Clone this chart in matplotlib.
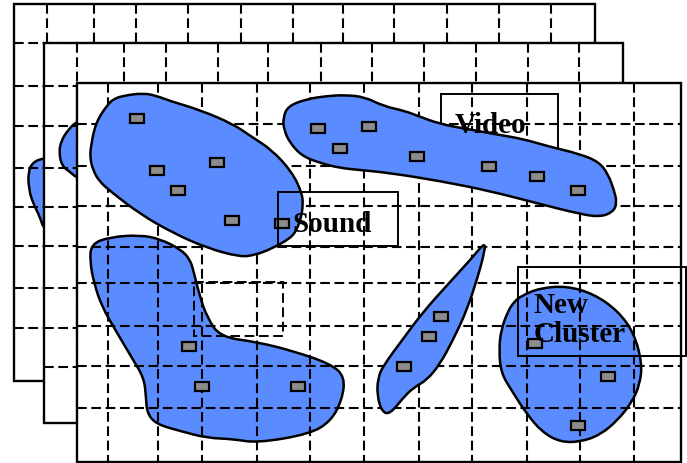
import matplotlib
matplotlib.use('Agg')
import matplotlib.pyplot as plt
from matplotlib.patches import Rectangle, PathPatch
from matplotlib.path import Path

plt.rcParams['lines.scale_dashes'] = False

BLUE = '#5b8cff'
GREY = '#8c8c8c'

# stacked panels (left, top, right, bottom) in pixels, back to front
panels = [(14, 4, 595, 381), (44, 43, 623, 423), (77, 83, 681, 462)]
grid_x = [
    [47, 94, 136, 188, 241, 293, 343, 394, 447, 499, 551],
    [77, 124, 166, 218, 268, 321, 372, 424, 476, 528, 579],
    [108, 158, 202, 257, 310, 364, 419, 472, 527, 580, 634],
]
grid_y = [
    [43, 86, 126, 168, 207, 246, 288, 328],
    [86, 126, 168, 207, 246, 288, 328, 367],
    [124, 166, 206, 247, 283, 326, 366, 408],
]

# cluster outlines
back_blob = [(44, 158), (33, 162), (28, 172), (29, 190), (33, 203), (40, 217), (44, 230), (60, 230), (60, 158)]
mid_blob = [(77, 121), (68, 130), (61, 141), (59, 153), (62, 166), (70, 172), (77, 178), (90, 178), (90, 121)]
blob_sound = [(143, 93), (157, 96), (170, 101), (200, 110), (233, 124), (252, 137), (272, 150), (292, 172),
              (302, 193), (303, 205), (301, 218), (297, 229), (291, 238), (271, 249), (255, 255), (240, 257),
              (207, 248), (173, 233), (140, 214), (110, 191), (99, 181), (93, 170), (90, 158), (91, 145),
              (96, 122), (108, 104), (114, 99), (122, 96)]
blob_video = [(288, 106), (307, 99), (327, 96), (345, 95), (365, 97), (383, 106), (405, 111), (418, 116),
              (440, 124), (467, 129), (500, 135), (523, 139), (547, 146), (580, 154), (599, 162), (608, 174),
              (614, 190), (617, 203), (613, 212), (600, 217), (580, 214), (540, 204), (490, 191), (440, 181),
              (390, 173), (360, 170), (340, 168), (320, 163), (302, 156), (290, 143), (284, 130), (283, 118)]
blob_low = [(91, 244), (110, 237), (140, 235), (160, 239), (180, 249), (190, 259), (194, 273), (200, 297),
            (207, 317), (220, 337), (257, 342), (293, 351), (331, 364), (345, 377), (342, 400), (331, 421),
            (310, 434), (257, 443), (233, 439), (207, 438), (180, 431), (156, 424), (147, 413), (146, 397),
            (144, 378), (132, 358), (116, 331), (102, 307), (94, 283), (90, 262)]
blob_thin = [(486, 241), (483, 258), (478, 276), (467, 310), (453, 340), (440, 364), (427, 380), (413, 388),
             (403, 398), (390, 414), (382, 412), (377, 395), (378, 378), (383, 366), (403, 339), (423, 312),
             (450, 282), (472, 258)]
blob_new = [(521, 296), (540, 288), (567, 286), (594, 294), (618, 311), (634, 333), (642, 363), (640, 384),
            (632, 402), (618, 420), (600, 435), (580, 442), (560, 442), (542, 432), (526, 413), (512, 391),
            (501, 373), (499, 350), (501, 330), (508, 311), (514, 302)]

# data points (grey markers)
pts_x = [137, 157, 178, 217, 232, 282,
         318, 340, 369, 417, 489, 537, 578,
         189, 202, 298,
         441, 429, 404,
         535, 608, 578]
pts_y = [118, 170, 190, 162, 220, 223,
         128, 148, 126, 156, 166, 176, 190,
         346, 386, 386,
         316, 336, 366,
         343, 376, 425]

labels = ['Video', 'Sound', 'New\nCluster']
label_xy = [(455, 133), (293, 232), (534, 342)]
boxes = [(441, 94, 558, 148), (278, 192, 398, 246), (518, 267, 686, 356)]
dash_box = (194, 282, 283, 336)

fig = plt.figure(figsize=(6.87, 4.63), dpi=100)
ax = fig.add_axes([0, 0, 1, 1])
ax.set_xlim(0, 687)
ax.set_ylim(463, 0)
ax.axis('off')

dash = (0, (7, 3.3))


def draw_panel(i, z):
    x0, y0, x1, y1 = panels[i]
    ax.add_patch(Rectangle((x0, y0), x1 - x0, y1 - y0, facecolor='white',
                           edgecolor='black', lw=1.7, zorder=z))
    for gx in grid_x[i]:
        ax.plot([gx, gx], [y0, y1], color='black', lw=1.5, ls=dash, zorder=z + 2)
    for gy in grid_y[i]:
        ax.plot([x0, x1], [gy, gy], color='black', lw=1.5, ls=dash, zorder=z + 2)


def blob(pts, z):
    # closed quadratic spline using the outline points as control points
    n = len(pts)
    mids = [((pts[k][0] + pts[(k + 1) % n][0]) / 2, (pts[k][1] + pts[(k + 1) % n][1]) / 2)
            for k in range(n)]
    verts = [mids[-1]]
    codes = [Path.MOVETO]
    for k in range(n):
        verts += [pts[k], mids[k]]
        codes += [Path.CURVE3, Path.CURVE3]
    verts.append(mids[-1])
    codes.append(Path.CLOSEPOLY)
    ax.add_patch(PathPatch(Path(verts, codes), facecolor=BLUE, edgecolor='black',
                           lw=1.8, joinstyle='round', zorder=z))


draw_panel(0, 1)
blob(back_blob, 2)
draw_panel(1, 5)
blob(mid_blob, 6)
draw_panel(2, 10)

# blobs that sit under the grid
blob(blob_low, 11)
blob(blob_new, 11)

# video box lies under its cluster
bx0, by0, bx1, by1 = boxes[0]
ax.add_patch(Rectangle((bx0, by0), bx1 - bx0, by1 - by0, fill=False,
                       edgecolor='black', lw=1.4, zorder=12.5))

blob(blob_sound, 13)
blob(blob_video, 13)
blob(blob_thin, 13)

for x, y in zip(pts_x, pts_y):
    ax.add_patch(Rectangle((x - 7, y - 4.5), 14, 9, facecolor=GREY,
                           edgecolor='black', lw=1.6, zorder=14))

for bx0, by0, bx1, by1 in boxes[1:]:
    ax.add_patch(Rectangle((bx0, by0), bx1 - bx0, by1 - by0, fill=False,
                           edgecolor='black', lw=1.4, zorder=15))
dx0, dy0, dx1, dy1 = dash_box
ax.add_patch(Rectangle((dx0, dy0), dx1 - dx0, dy1 - dy0, fill=False,
                       edgecolor='black', lw=1.4, ls=dash, zorder=15))

for t, (x, y) in zip(labels, label_xy):
    ax.text(x, y, t, family='Liberation Serif', weight='bold', fontsize=21,
            ha='left', va='baseline', linespacing=1.1, zorder=16)

fig.savefig('out.png', dpi=100)
